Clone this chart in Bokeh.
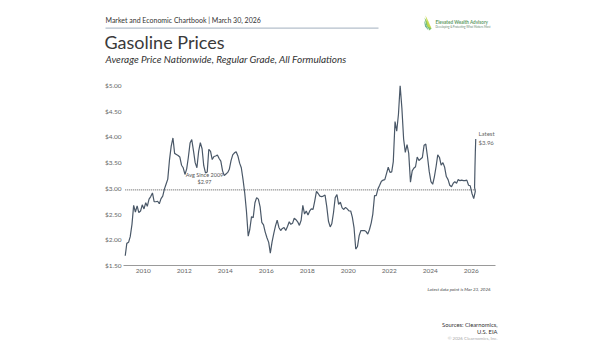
import pandas as pd
from bokeh.plotting import figure
from bokeh.layouts import column
from bokeh.models import Label, Range1d, FixedTicker, NumeralTickFormatter, DatetimeTickFormatter, ColumnDataSource
from bokeh.embed import file_html
from bokeh.resources import INLINE

# ---------------- data ----------------
first_month = "2009-01-15"
monthly_price = [
    # 2009
    1.69, 1.93, 1.95, 2.06, 2.30, 2.67, 2.54, 2.66, 2.53, 2.56, 2.68, 2.60,
    # 2010
    2.72, 2.65, 2.79, 2.84, 2.91, 2.74, 2.74, 2.75, 2.70, 2.80, 2.85, 2.99,
    # 2011
    3.09, 3.18, 3.56, 3.82, 3.98, 3.68, 3.66, 3.64, 3.61, 3.45, 3.40, 3.27,
    # 2012
    3.38, 3.60, 3.88, 3.95, 3.73, 3.50, 3.40, 3.72, 3.89, 3.77, 3.44, 3.30,
    # 2013
    3.32, 3.76, 3.72, 3.56, 3.62, 3.63, 3.65, 3.58, 3.53, 3.34, 3.25, 3.28,
    # 2014
    3.31, 3.37, 3.54, 3.65, 3.69, 3.71, 3.63, 3.49, 3.40, 3.17, 2.91, 2.55,
    # 2015
    2.07, 2.20, 2.45, 2.43, 2.72, 2.82, 2.79, 2.64, 2.34, 2.29, 2.15, 2.04,
    # 2016
    1.95, 1.74, 1.96, 2.12, 2.27, 2.38, 2.24, 2.18, 2.22, 2.24, 2.18, 2.26,
    # 2017
    2.35, 2.30, 2.32, 2.42, 2.39, 2.35, 2.28, 2.38, 2.67, 2.50, 2.56, 2.48,
    # 2018
    2.56, 2.60, 2.59, 2.75, 2.94, 2.90, 2.85, 2.84, 2.85, 2.87, 2.65, 2.36,
    # 2019
    2.25, 2.31, 2.53, 2.82, 2.88, 2.69, 2.73, 2.62, 2.59, 2.63, 2.60, 2.56,
    # 2020
    2.56, 2.44, 2.23, 1.82, 1.87, 2.08, 2.18, 2.18, 2.18, 2.16, 2.11, 2.20,
    # 2021
    2.33, 2.50, 2.86, 2.86, 2.99, 3.06, 3.14, 3.16, 3.17, 3.29, 3.41, 3.31,
    # 2022
    3.32, 3.52, 4.30, 4.11, 4.44, 5.00, 4.56, 3.96, 3.70, 3.85, 3.68, 3.12,
    # 2023
    3.34, 3.39, 3.42, 3.61, 3.54, 3.57, 3.60, 3.84, 3.86, 3.61, 3.33, 3.13,
    # 2024
    3.08, 3.22, 3.42, 3.65, 3.60, 3.45, 3.50, 3.41, 3.23, 3.17, 3.06, 3.03,
    # 2025
    3.10, 3.13, 3.10, 3.17, 3.15, 3.16, 3.15, 3.15, 3.16, 3.06, 3.05, 2.90,
    # 2026
    2.80, 2.94,
]
march_2026_dates = ["2026-03-02", "2026-03-09", "2026-03-16", "2026-03-23"]
march_2026_price = [3.02, 3.40, 3.72, 3.96]

avg_since_2009 = 2.97
latest_price = 3.96
tick_years = [2010, 2012, 2014, 2016, 2018, 2020, 2022, 2024, 2026]
y_ticks = [1.5, 2.0, 2.5, 3.0, 3.5, 4.0, 4.5, 5.0]

dates = list(pd.date_range(first_month, periods=len(monthly_price), freq="MS") + pd.Timedelta(days=14))
dates += list(pd.to_datetime(march_2026_dates))
prices = monthly_price + march_2026_price
src = ColumnDataSource(dict(date=dates, price=prices))

FONT = "Lato"
W = 600
HEAD_H, MAIN_H, FOOT_H = 70, 210, 70   # page rows: 0-70, 70-280, 280-350

# ---------------- helpers ----------------
def blank_fig(h):
    f = figure(width=W, height=h, output_backend="svg", toolbar_location=None,
               x_range=Range1d(0, W), y_range=Range1d(h, 0),
               x_axis_location=None, y_axis_location=None,
               min_border=0, min_border_left=0, min_border_right=0,
               min_border_top=0, min_border_bottom=0, frame_align=False)
    f.outline_line_color = None
    f.xgrid.visible = False
    f.ygrid.visible = False
    f.title.visible = False
    return f

def add_label(f, x, y, text, size, color="#333333", align="left", style="normal"):
    f.add_layout(Label(x=x, y=y, text=text, text_font=FONT, text_font_size=f"{size}px",
                       text_color=color, text_align=align, text_baseline="middle",
                       text_font_style=style))

# ---------------- header ----------------
head = blank_fig(HEAD_H)
add_label(head, 105, 19.5, "Market and Economic Chartbook | March 30, 2026", 7, "#333333")
head.quad(left=[105], right=[378], top=[27], bottom=[28.2], fill_color="#b4bfcb", line_color=None)
add_label(head, 104, 41, "Gasoline Prices", 18, "#3a3a3a")
add_label(head, 105, 58, "Average Price Nationwide, Regular Grade, All Formulations", 10, "#333333", style="italic")
# logo
head.patch(x=[424, 431, 429, 425.5], y=[17, 28, 30, 24], fill_color="#7dc36b", line_color=None)
head.patch(x=[425, 428, 431, 427], y=[15, 21, 28, 26], fill_color="#c8d94a", line_color=None, fill_alpha=0.9)
head.patch(x=[423.5, 427, 428, 424.5], y=[20, 27, 30, 26], fill_color="#4fa57a", line_color=None, fill_alpha=0.8)
add_label(head, 435, 21.5, "Elevated Wealth Advisory", 4.6, "#5f9a66", style="bold")
add_label(head, 435, 26, "Developing & Protecting What Matters Most", 2.8, "#6a8a70")

# ---------------- main chart ----------------
FL, FR, FT, FB = 123, 495, 85, 265   # frame in page pixels
x0 = pd.Timestamp("2009-01-15")
x1 = pd.Timestamp("2027-03-10")
y0, y1 = 1.5, 5.0

def ms(t):
    return pd.Timestamp(t).value / 1e6

def px_x(px):
    return ms(x0) + (px - FL) / (FR - FL) * (ms(x1) - ms(x0))

def px_y(py):
    return y0 + (FB - py) / (FB - FT) * (y1 - y0)

p = figure(width=W, height=MAIN_H, output_backend="svg", toolbar_location=None,
           x_axis_type="datetime",
           x_range=Range1d(ms(x0), ms(x1)), y_range=Range1d(y0, y1),
           min_border_left=FL, min_border_right=W - FR,
           min_border_top=FT - HEAD_H, min_border_bottom=HEAD_H + MAIN_H - FB,
           frame_align=False)
p.outline_line_color = None
p.xgrid.visible = False
p.ygrid.visible = False
p.title.visible = False

xa = p.xaxis[0]
xa.ticker = FixedTicker(ticks=[ms(f"{y}-01-01") for y in tick_years])
xa.formatter = DatetimeTickFormatter(years="%Y", months="%Y", days="%Y", hours="%Y",
                                     minutes="%Y", seconds="%Y", milliseconds="%Y",
                                     minsec="%Y", hourmin="%Y")
xa.axis_line_color = "#9a9a9a"
xa.axis_line_width = 1
xa.major_tick_line_color = None
xa.minor_tick_line_color = None
xa.major_tick_out = 0
xa.major_tick_in = 0
xa.minor_tick_out = 0
xa.major_label_text_font = FONT
xa.major_label_text_font_size = "6.5px"
xa.major_label_text_color = "#666666"
xa.major_label_standoff = 3

ya = p.yaxis[0]
ya.ticker = FixedTicker(ticks=y_ticks)
ya.formatter = NumeralTickFormatter(format="$0.00")
ya.axis_line_color = None
ya.major_tick_line_color = None
ya.minor_tick_line_color = None
ya.major_tick_out = 0
ya.major_tick_in = 0
ya.minor_tick_out = 0
ya.major_label_text_font = FONT
ya.major_label_text_font_size = "6.5px"
ya.major_label_text_color = "#666666"
ya.major_label_standoff = 2

# average line
p.line(x=[dates[0], dates[-1]], y=[avg_since_2009, avg_since_2009],
       line_color="#555555", line_width=1, line_dash="1 1")
# price line
p.line("date", "price", source=src, line_color="#4a5868", line_width=1.2)

def plabel(px, py, text, size, color="#555555", align="left"):
    p.add_layout(Label(x=px_x(px), y=px_y(py), text=text, text_font=FONT,
                       text_font_size=f"{size}px", text_color=color, text_align=align,
                       text_baseline="middle"))

plabel(204, 174, "Avg Since 2009", 5.5, align="center")
plabel(204, 181.5, f"${avg_since_2009:.2f}", 5.5, align="center")
plabel(478, 133, "Latest", 6, "#666666")
plabel(478, 142, f"${latest_price:.2f}", 6, "#666666")

# ---------------- footer ----------------
foot = blank_fig(FOOT_H)
off = HEAD_H + MAIN_H
add_label(foot, 490, 289 - off, "Latest data point is Mar 23, 2026", 4.5, "#444444", align="right", style="italic")
add_label(foot, 497, 324 - off, "Sources: Clearnomics,", 5.8, "#333333", align="right")
add_label(foot, 497, 331 - off, "U.S. EIA", 5.8, "#333333", align="right")
add_label(foot, 497, 338 - off, "\u00a9 2026 Clearnomics, Inc.", 4.5, "#aaaaaa", align="right")

layout = column(head, p, foot, spacing=0)
open("out.html", "w").write(file_html(layout, INLINE))
